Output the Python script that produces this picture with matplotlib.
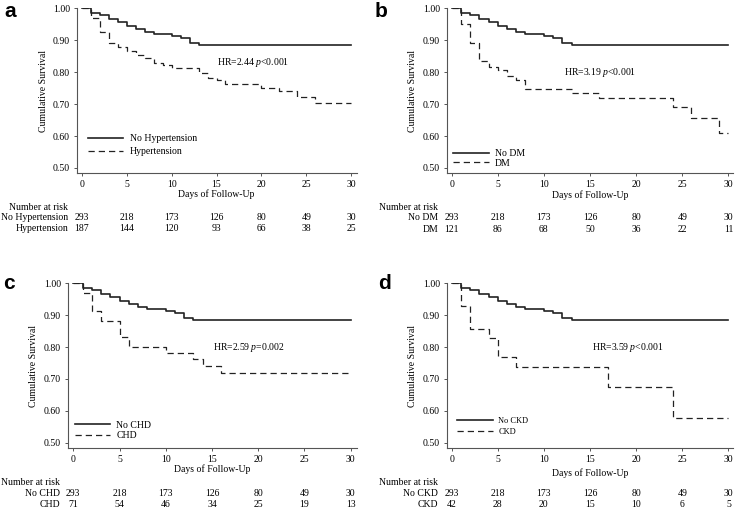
import matplotlib
matplotlib.use("Agg")
import matplotlib.pyplot as plt
import matplotlib.transforms as mtransforms

plt.rcParams.update({
    'font.family': 'Liberation Serif',
    'font.size': 7,
    'mathtext.fontset': 'custom',
    'mathtext.rm': 'Liberation Serif',
    'mathtext.it': 'Liberation Serif:italic',
})

# Kaplan-Meier step data
days_ref = [0, 1, 2, 3, 4, 5, 6, 7, 8, 10, 11, 12, 13, 30]
surv_ref = [1.0, 0.986, 0.979, 0.968, 0.956, 0.946, 0.936, 0.925, 0.919, 0.914, 0.908, 0.891, 0.885, 0.885]

days_htn = [0, 1, 2, 3, 4, 5, 6, 7, 8, 9, 10, 13, 14, 15, 16, 20, 22, 24, 26, 30]
surv_htn = [1.0, 0.969, 0.925, 0.890, 0.878, 0.867, 0.853, 0.846, 0.829, 0.821, 0.813,
            0.798, 0.782, 0.774, 0.763, 0.752, 0.741, 0.722, 0.702, 0.702]

days_dm = [0, 1, 2, 3, 4, 5, 6, 7, 8, 13, 16, 24, 26, 29, 30]
surv_dm = [1.0, 0.951, 0.890, 0.835, 0.817, 0.807, 0.788, 0.777, 0.747, 0.735, 0.720,
           0.691, 0.658, 0.610, 0.610]

days_chd = [0, 1, 2, 3, 5, 6, 10, 13, 14, 16, 30]
surv_chd = [1.0, 0.971, 0.912, 0.881, 0.832, 0.800, 0.782, 0.762, 0.741, 0.720, 0.720]

days_ckd = [0, 1, 2, 4, 5, 7, 17, 24, 30]
surv_ckd = [1.0, 0.929, 0.857, 0.829, 0.769, 0.736, 0.675, 0.578, 0.578]

# number at risk
risk_days = [0, 5, 10, 15, 20, 25, 30]
risk_ref = [293, 218, 173, 126, 80, 49, 30]
risk_htn = [187, 144, 120, 93, 66, 38, 25]
risk_dm = [121, 86, 68, 50, 36, 22, 11]
risk_chd = [71, 54, 46, 34, 25, 19, 13]
risk_ckd = [42, 28, 20, 15, 10, 6, 5]

ref_names = ["No Hypertension", "No DM", "No CHD", "No CKD"]
grp_names = ["Hypertension", "DM", "CHD", "CKD"]
hr_texts = ["HR=2.44 $\\mathit{p}$<0.001", "HR=3.19 $\\mathit{p}$<0.001",
            "HR=2.59 $\\mathit{p}$=0.002", "HR=3.59 $\\mathit{p}$<0.001"]
panel_letters = ["a", "b", "c", "d"]

W, H = 738, 512
fig = plt.figure(figsize=(W / 100, H / 100), dpi=100)

# pixel boxes (left, right, top, bottom) and limits for each panel
boxes = [(77, 357, 8.0, 173.3), (447, 733, 8.0, 173.3),
         (68, 356.7, 283.0, 448.3), (447, 733, 283.0, 448.3)]
xlims = [(-0.55, 30.66), (-0.51, 30.5), (-0.57, 30.65), (-0.51, 30.5)]
ylims = [(0.4834, 1.001), (0.4834, 1.001), (0.4825, 1.001), (0.4825, 1.001)]
hr_pos = [(15.1, 0.831), (12.2, 0.798), (15.1, 0.798), (15.2, 0.798)]
# legend: anchor (axes fraction, centre left), font size, line length, gap, row spacing
leg_anchor = [(0.039, 0.170), (0.022, 0.091), (0.025, 0.108), (0.036, 0.132)]
leg_size = [7, 7, 7, 6]
leg_hlen = [3.6, 3.67, 3.6, 4.25]
leg_gap = [0.72, 0.62, 0.62, 0.67]
leg_space = [0.38, 0.05, 0.15, 0.33]
# vertical pixel rows: x label, "Number at risk", row 1, row 2
text_rows = [(194, 207, 218, 228.5), (195, 207, 218, 229),
             (469.5, 482.7, 493.3, 504.3), (472.7, 482.7, 493.3, 504.3)]
label_right = [-1.56, -1.45, -1.44, -1.45]
letter_pos = [(4, 16.7), (375, 16.7), (3, 289.3), (378, 289.3)]

curves = [(days_htn, surv_htn, risk_htn), (days_dm, surv_dm, risk_dm),
          (days_chd, surv_chd, risk_chd), (days_ckd, surv_ckd, risk_ckd)]

spine_col = '#555555'
line_col = '#222222'

for i in range(4):
    l, r, t, b = boxes[i]
    ax = fig.add_axes([l / W, 1 - b / H, (r - l) / W, (b - t) / H])
    days_g, surv_g, risk_g = curves[i]

    ax.step(days_ref, surv_ref, where='post', color=line_col, lw=1.2,
            label=ref_names[i])
    ax.step(days_g, surv_g, where='post', color=line_col, lw=0.9,
            dashes=(5, 3.2), label=grp_names[i])

    ax.set_xlim(*xlims[i])
    ax.set_ylim(*ylims[i])
    ax.set_xticks(risk_days)
    ax.set_yticks([0.5, 0.6, 0.7, 0.8, 0.9, 1.0])
    ax.set_yticklabels(["%.2f" % v for v in [0.5, 0.6, 0.7, 0.8, 0.9, 1.0]])
    for s in ['top', 'right']:
        ax.spines[s].set_visible(False)
    for s in ['left', 'bottom']:
        ax.spines[s].set_color(spine_col)
        ax.spines[s].set_linewidth(0.8)
    ax.tick_params(length=2.5, width=0.7, color=spine_col, labelsize=7, pad=2.5)

    ax.set_ylabel("Cumulative Survival", fontsize=7)
    ax.yaxis.set_label_coords(-0.105, 0.5)

    ax.text(hr_pos[i][0], hr_pos[i][1], hr_texts[i], fontsize=7, ha='left', va='center')

    ax.legend(loc='center left', bbox_to_anchor=leg_anchor[i], frameon=False,
              fontsize=leg_size[i], handlelength=leg_hlen[i], handletextpad=leg_gap[i],
              labelspacing=leg_space[i], borderaxespad=0, borderpad=0)

    # text below the axes: x in data, y in figure pixels
    tr = mtransforms.blended_transform_factory(ax.transData, fig.transFigure)
    xl, nr, r1, r2 = text_rows[i]
    ax.text(15, 1 - xl / H, "Days of Follow-Up", transform=tr, ha='center', va='center', fontsize=7)
    ax.text(label_right[i], 1 - nr / H, "Number at risk", transform=tr, ha='right', va='center', fontsize=7)
    ax.text(label_right[i], 1 - r1 / H, ref_names[i], transform=tr, ha='right', va='center', fontsize=7)
    ax.text(label_right[i], 1 - r2 / H, grp_names[i], transform=tr, ha='right', va='center', fontsize=7)
    for d, n1, n2 in zip(risk_days, risk_ref, risk_g):
        ax.text(d, 1 - r1 / H, str(n1), transform=tr, ha='center', va='center', fontsize=7)
        ax.text(d, 1 - r2 / H, str(n2), transform=tr, ha='center', va='center', fontsize=7)

    fig.text(letter_pos[i][0] / W, 1 - letter_pos[i][1] / H, panel_letters[i],
             family='Liberation Sans', weight='bold', fontsize=15, ha='left', va='baseline')

fig.savefig("out.png", dpi=100)
